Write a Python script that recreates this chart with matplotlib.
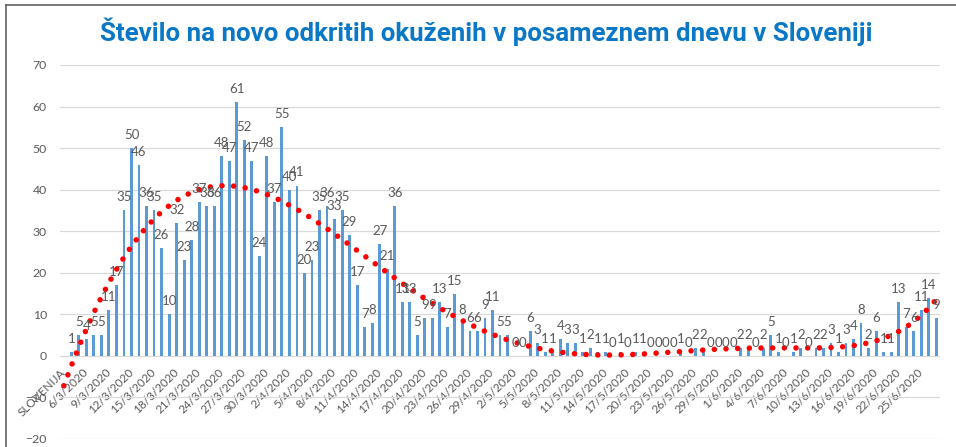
# -*- coding: utf-8 -*-
"""plot.py — daily new COVID-19 cases in Slovenia (bars + 6th order trend)."""

import numpy as np
import matplotlib
matplotlib.use("Agg")
import matplotlib.pyplot as plt
from matplotlib.lines import Line2D

# --- Data -----------------------------------------------------------------
TITLE = "Število na novo odkritih okuženih v posameznem dnevu v Sloveniji"
FIRST_LABEL = "SLOVENIJA"          # header cell that ended up as category 0
START_DAY, START_MONTH = 4, 3      # first real day: 4/3/2020

# new cases per day, 4/3/2020 .. 27/6/2020
cases = [
    1, 5, 4, 5, 5, 11, 17, 35, 50, 46,
    36, 35, 26, 10, 32, 23, 28, 37, 36, 36,
    48, 47, 61, 52, 47, 24, 48, 37, 55, 40,
    41, 20, 23, 35, 36, 33, 35, 29, 17, 7,
    8, 27, 21, 36, 13, 13, 5, 9, 9, 13,
    7, 15, 8, 6, 6, 9, 11, 5, 5, 0,
    0, 6, 3, 1, 1, 4, 3, 3, 1, 2,
    1, 1, 0, 1, 0, 1, 1, 0, 0, 0,
    0, 1, 0, 2, 2, 0, 0, 0, 0, 2,
    2, 0, 2, 5, 1, 0, 1, 2, 0, 2,
    2, 3, 1, 3, 4, 8, 2, 6, 1, 1,
    13, 7, 6, 11, 14, 9,
]
yticks = list(range(-20, 71, 10))
TREND_DEGREE = 6

# --- Colours ----------------------------------------------------------------
BAR_COLOR = "#5B9BD5"
TREND_COLOR = "#FF0000"
TEXT_COLOR = "#595959"
GRID_COLOR = "#D9D9D9"
TITLE_COLOR = "#0A78C6"
FRAME_COLOR = "#555555"


def date_labels():
    """Category names: header cell first, then d/m/2020 for every day."""
    month_len = {3: 31, 4: 30, 5: 31, 6: 30}
    labels = [FIRST_LABEL]
    d, m = START_DAY, START_MONTH
    for _ in cases:
        labels.append(f"{d}/{m}/2020")
        d += 1
        if d > month_len[m]:
            d, m = 1, m + 1
    return labels


def main():
    labels = date_labels()
    x = np.arange(1, len(cases) + 1)
    y = np.array(cases, dtype=float)

    fig = plt.figure(figsize=(9.56, 4.47), dpi=100)
    ax = fig.add_axes([0.0628, 0.0179, 0.9205, 0.8367])

    # bars
    ax.bar(x, y, width=0.38, color=BAR_COLOR, zorder=2)

    # polynomial trendline, like the Excel one
    coef = np.polyfit(x, y, TREND_DEGREE)
    xt = np.linspace(0, len(cases), 600)
    ax.plot(xt, np.polyval(coef, xt), color=TREND_COLOR, lw=4.0,
            linestyle=(0, (0.001, 2.1)), dash_capstyle="round", zorder=3)

    # data labels
    for xi, v in zip(x, cases):
        ax.annotate(str(v), (xi, v), xytext=(0, 6.5), textcoords="offset points",
                    ha="center", va="baseline", fontsize=9.5, family="Lato",
                    color=TEXT_COLOR, zorder=4)

    # axes styling
    ax.set_xlim(-0.5, len(cases) + 0.5)
    ax.set_ylim(-20, 70)
    ax.set_yticks(yticks)
    ax.grid(axis="y", color=GRID_COLOR, lw=0.9, zorder=0)
    ax.set_axisbelow(True)
    for s in ax.spines.values():
        s.set_visible(False)
    ax.spines["bottom"].set_position(("data", 0))

    ticks = list(range(0, len(labels), 3))
    ax.set_xticks(ticks)
    ax.set_xticklabels([labels[i] for i in ticks])
    ax.tick_params(axis="x", length=0, pad=10.5, labelsize=8.5, labelcolor=TEXT_COLOR)
    ax.tick_params(axis="y", length=0, pad=9.5, labelsize=8.8, labelcolor=TEXT_COLOR)
    plt.setp(ax.get_xticklabels(), rotation=45, ha="right", va="center",
             rotation_mode="anchor", family="Lato")
    plt.setp(ax.get_yticklabels(), family="Lato")

    # title
    fig.text(0.5085, 1 - 40.5 / 447, TITLE, ha="center", va="baseline",
             fontsize=18.6, fontweight="bold", color=TITLE_COLOR,
             family=["Liberation Sans Narrow", "Roboto", "DejaVu Sans"])

    # frame of the original screenshot (top and left edge)
    fig.add_artist(Line2D([5.5 / 956, 1], [1 - 4.8 / 447] * 2,
                          transform=fig.transFigure, color=FRAME_COLOR, lw=1.1))
    fig.add_artist(Line2D([5.5 / 956] * 2, [0, 1 - 4.8 / 447],
                          transform=fig.transFigure, color=FRAME_COLOR, lw=1.1))

    fig.savefig("out.png", dpi=100)
    plt.close(fig)


if __name__ == "__main__":
    main()
